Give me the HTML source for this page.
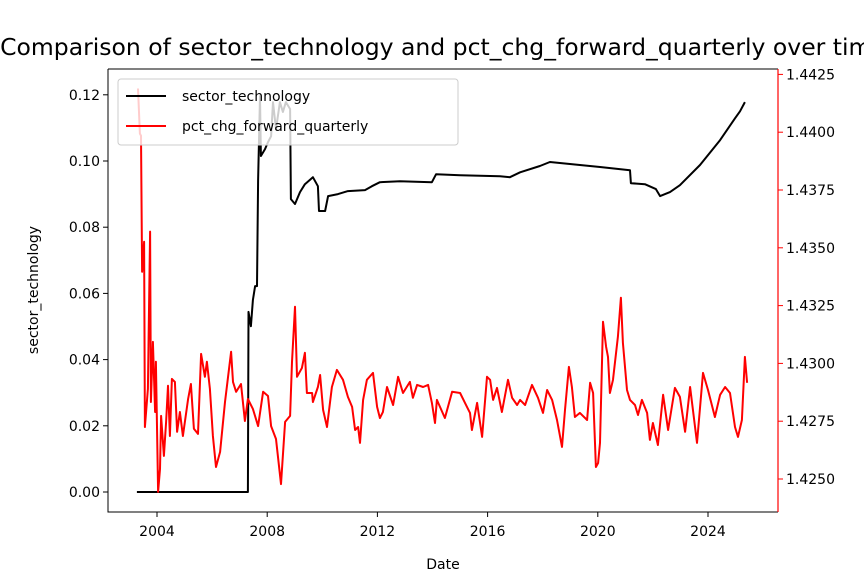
<!DOCTYPE html>
<html><head><meta charset="utf-8"><style>
html,body{margin:0;padding:0;background:#fff;overflow:hidden;}
svg{display:block;font-family:"DejaVu Sans","Liberation Sans",sans-serif;}
</style></head><body>
<svg id="chart" width="864" height="576" viewBox="0 0 864 576" xmlns="http://www.w3.org/2000/svg">
<text x="443" y="55" text-anchor="middle" font-size="23.5">Comparison of sector_technology and pct_chg_forward_quarterly over time</text>
<g id="plot"></g>
</svg>
<script>
const xTicks=[2004,2008,2012,2016,2020,2024];
const leftTicks=[0,0.02,0.04,0.06,0.08,0.10,0.12];
const rightTicks=[1.4250,1.4275,1.4300,1.4325,1.4350,1.4375,1.4400,1.4425];
const techDates=[2003.27,2007.30,2007.32,2007.41,2007.48,2007.56,2007.63,2007.67,2007.74,2007.77,2007.92,2008.03,2008.14,2008.21,2008.32,2008.46,2008.57,2008.68,2008.83,2008.86,2009.01,2009.19,2009.37,2009.66,2009.84,2009.88,2010.10,2010.21,2010.57,2010.93,2011.55,2011.80,2012.09,2012.82,2013.98,2014.13,2015.00,2016.45,2016.81,2017.18,2017.90,2018.26,2019.35,2020.08,2021.17,2021.20,2021.71,2022.11,2022.26,2022.62,2022.98,2023.71,2024.44,2024.98,2025.16,2025.34];
const techValues=[0,0,0.0544,0.0501,0.058,0.0622,0.0622,0.0942,0.1196,0.1015,0.1036,0.1057,0.1075,0.1178,0.1096,0.1178,0.1148,0.1178,0.1157,0.0885,0.087,0.0906,0.093,0.0951,0.0924,0.0849,0.0849,0.0894,0.09,0.0909,0.0912,0.0924,0.0936,0.0939,0.0936,0.096,0.0957,0.0954,0.0951,0.0966,0.0985,0.0997,0.0988,0.0982,0.0972,0.0933,0.093,0.0915,0.0894,0.0906,0.0927,0.0988,0.1063,0.1129,0.1150,0.1178];
const pctDates=[2003.31,2003.38,2003.42,2003.46,2003.53,2003.56,2003.67,2003.75,2003.78,2003.85,2003.93,2003.96,2004.04,2004.11,2004.15,2004.25,2004.33,2004.40,2004.47,2004.54,2004.65,2004.73,2004.83,2004.94,2005.13,2005.23,2005.34,2005.49,2005.60,2005.74,2005.81,2005.92,2006.03,2006.14,2006.29,2006.47,2006.69,2006.76,2006.87,2007.05,2007.19,2007.30,2007.48,2007.67,2007.85,2008.03,2008.14,2008.32,2008.50,2008.65,2008.83,2008.90,2009.01,2009.08,2009.26,2009.37,2009.44,2009.63,2009.66,2009.84,2009.92,2010.03,2010.17,2010.35,2010.53,2010.75,2010.93,2011.08,2011.19,2011.30,2011.37,2011.48,2011.62,2011.84,2011.99,2012.09,2012.20,2012.35,2012.57,2012.75,2012.93,2013.18,2013.29,2013.44,2013.66,2013.84,2013.98,2014.09,2014.16,2014.45,2014.71,2015.00,2015.18,2015.36,2015.43,2015.62,2015.80,2015.98,2016.09,2016.20,2016.34,2016.52,2016.74,2016.89,2017.07,2017.18,2017.36,2017.61,2017.83,2018.01,2018.16,2018.34,2018.52,2018.70,2018.81,2018.95,2019.06,2019.17,2019.35,2019.61,2019.72,2019.83,2019.93,2020.01,2020.08,2020.19,2020.30,2020.37,2020.44,2020.55,2020.73,2020.84,2020.91,2021.06,2021.17,2021.35,2021.46,2021.60,2021.79,2021.89,2022.00,2022.18,2022.37,2022.55,2022.80,2022.98,2023.17,2023.35,2023.60,2023.82,2024.00,2024.25,2024.44,2024.62,2024.80,2024.98,2025.09,2025.23,2025.34,2025.42];
const pctValues=[1.44189,1.43994,1.43985,1.43396,1.43526,1.42725,1.4289,1.4357,1.42833,1.43093,1.4279,1.43007,1.42444,1.42543,1.42773,1.426,1.42747,1.42903,1.42686,1.42933,1.4292,1.42704,1.4279,1.42686,1.42846,1.42911,1.42717,1.42695,1.43041,1.42942,1.43007,1.4289,1.42686,1.42552,1.42617,1.42833,1.4305,1.4292,1.42877,1.42911,1.42751,1.42846,1.42803,1.42729,1.42877,1.42859,1.42729,1.42673,1.42478,1.42747,1.42773,1.43007,1.43245,1.42942,1.4298,1.43046,1.42872,1.42872,1.42833,1.42898,1.4295,1.42799,1.42725,1.42898,1.42972,1.42929,1.42855,1.42812,1.42712,1.42725,1.42656,1.42842,1.42929,1.42959,1.42812,1.42764,1.4279,1.42898,1.4282,1.42942,1.42872,1.4292,1.42851,1.42907,1.42898,1.42907,1.42829,1.42742,1.42842,1.42764,1.42877,1.42872,1.42829,1.42786,1.42712,1.42829,1.42682,1.42942,1.42929,1.42842,1.42894,1.4279,1.42929,1.42851,1.4282,1.42842,1.4282,1.42907,1.42851,1.42786,1.42885,1.42842,1.42755,1.42639,1.42799,1.42985,1.42898,1.42768,1.42786,1.42755,1.42916,1.42872,1.42552,1.42569,1.42656,1.4318,1.43072,1.43028,1.42872,1.42929,1.43115,1.43284,1.43089,1.42885,1.42842,1.4282,1.42777,1.42842,1.42786,1.42669,1.42742,1.42647,1.42864,1.42712,1.42894,1.42855,1.42704,1.42898,1.42656,1.42959,1.42885,1.42768,1.42864,1.42898,1.42872,1.42725,1.42682,1.42755,1.43028,1.42916];

const NS='http://www.w3.org/2000/svg';
const L=108,R=778,T=69,B=512;
const xScale=y=>157+(y-2004)*27.55;
const yLeft=v=>492-v/0.02*66.2;
const yRight=v=>479-(v-1.425)/0.0025*57.8;
const g=document.getElementById('plot');
function mk(tag,attrs,text){const e=document.createElementNS(NS,tag);for(const k in attrs)e.setAttribute(k,attrs[k]);if(text!==undefined)e.textContent=text;g.appendChild(e);return e;}

xTicks.forEach(t=>{const x=xScale(t);
 const tk=mk('line',{x1:x,x2:x,y1:B,y2:B+5,stroke:'#000','stroke-width':1});
 
 
 const lb=mk('text',{x:x,y:B+24,'text-anchor':'middle','font-size':14},String(t));
 
 
});
leftTicks.forEach(t=>{const y=yLeft(t);
 const tk=mk('line',{x1:L-5,x2:L,y1:y,y2:y,stroke:'#000','stroke-width':1});
 
 
 const lb=mk('text',{x:L-8,y:y+5,'text-anchor':'end','font-size':14},t.toFixed(2));
 
 
});
rightTicks.forEach(t=>{const y=yRight(t);
 const tk=mk('line',{x1:R,x2:R+5,y1:y,y2:y,stroke:'red','stroke-width':1});
 
 
 const lb=mk('text',{x:R+8,y:y+5,'text-anchor':'start','font-size':14},t.toFixed(4));
 
 
});

const techPts=techDates.map((d,i)=>xScale(d).toFixed(1)+','+yLeft(techValues[i]).toFixed(1)).join(' ');
const tl=mk('polyline',{points:techPts,fill:'none',stroke:'#000','stroke-width':2,'stroke-linejoin':'round'});


const pctPts=pctDates.map((d,i)=>xScale(d).toFixed(1)+','+yRight(pctValues[i]).toFixed(1)).join(' ');
const pl=mk('polyline',{points:pctPts,fill:'none',stroke:'red','stroke-width':2,'stroke-linejoin':'round'});



const frame=mk('path',{d:`M${L},${T}H${R}M${L},${T}V${B}H${R}`,fill:'none',stroke:'#000','stroke-width':1});


const rs=mk('line',{x1:R,x2:R,y1:T,y2:B,stroke:'red','stroke-width':1.2});



const xt=mk('text',{x:443,y:569,'text-anchor':'middle','font-size':14},'Date');


const yt=mk('text',{x:38,y:290,'text-anchor':'middle','font-size':14,transform:'rotate(-90 38 290)'},'sector_technology');



const lg=mk('rect',{x:118,y:79,width:340,height:66,rx:3,fill:'#fff','fill-opacity':0.8,stroke:'#ccc'});


const l1=mk('line',{x1:126,x2:166,y1:96,y2:96,stroke:'#000','stroke-width':2});


const t1=mk('text',{x:182,y:101,'font-size':14},'sector_technology');


const l2=mk('line',{x1:126,x2:166,y1:126,y2:126,stroke:'red','stroke-width':2});


const t2=mk('text',{x:182,y:131,'font-size':14},'pct_chg_forward_quarterly');


</script>
</body></html>
